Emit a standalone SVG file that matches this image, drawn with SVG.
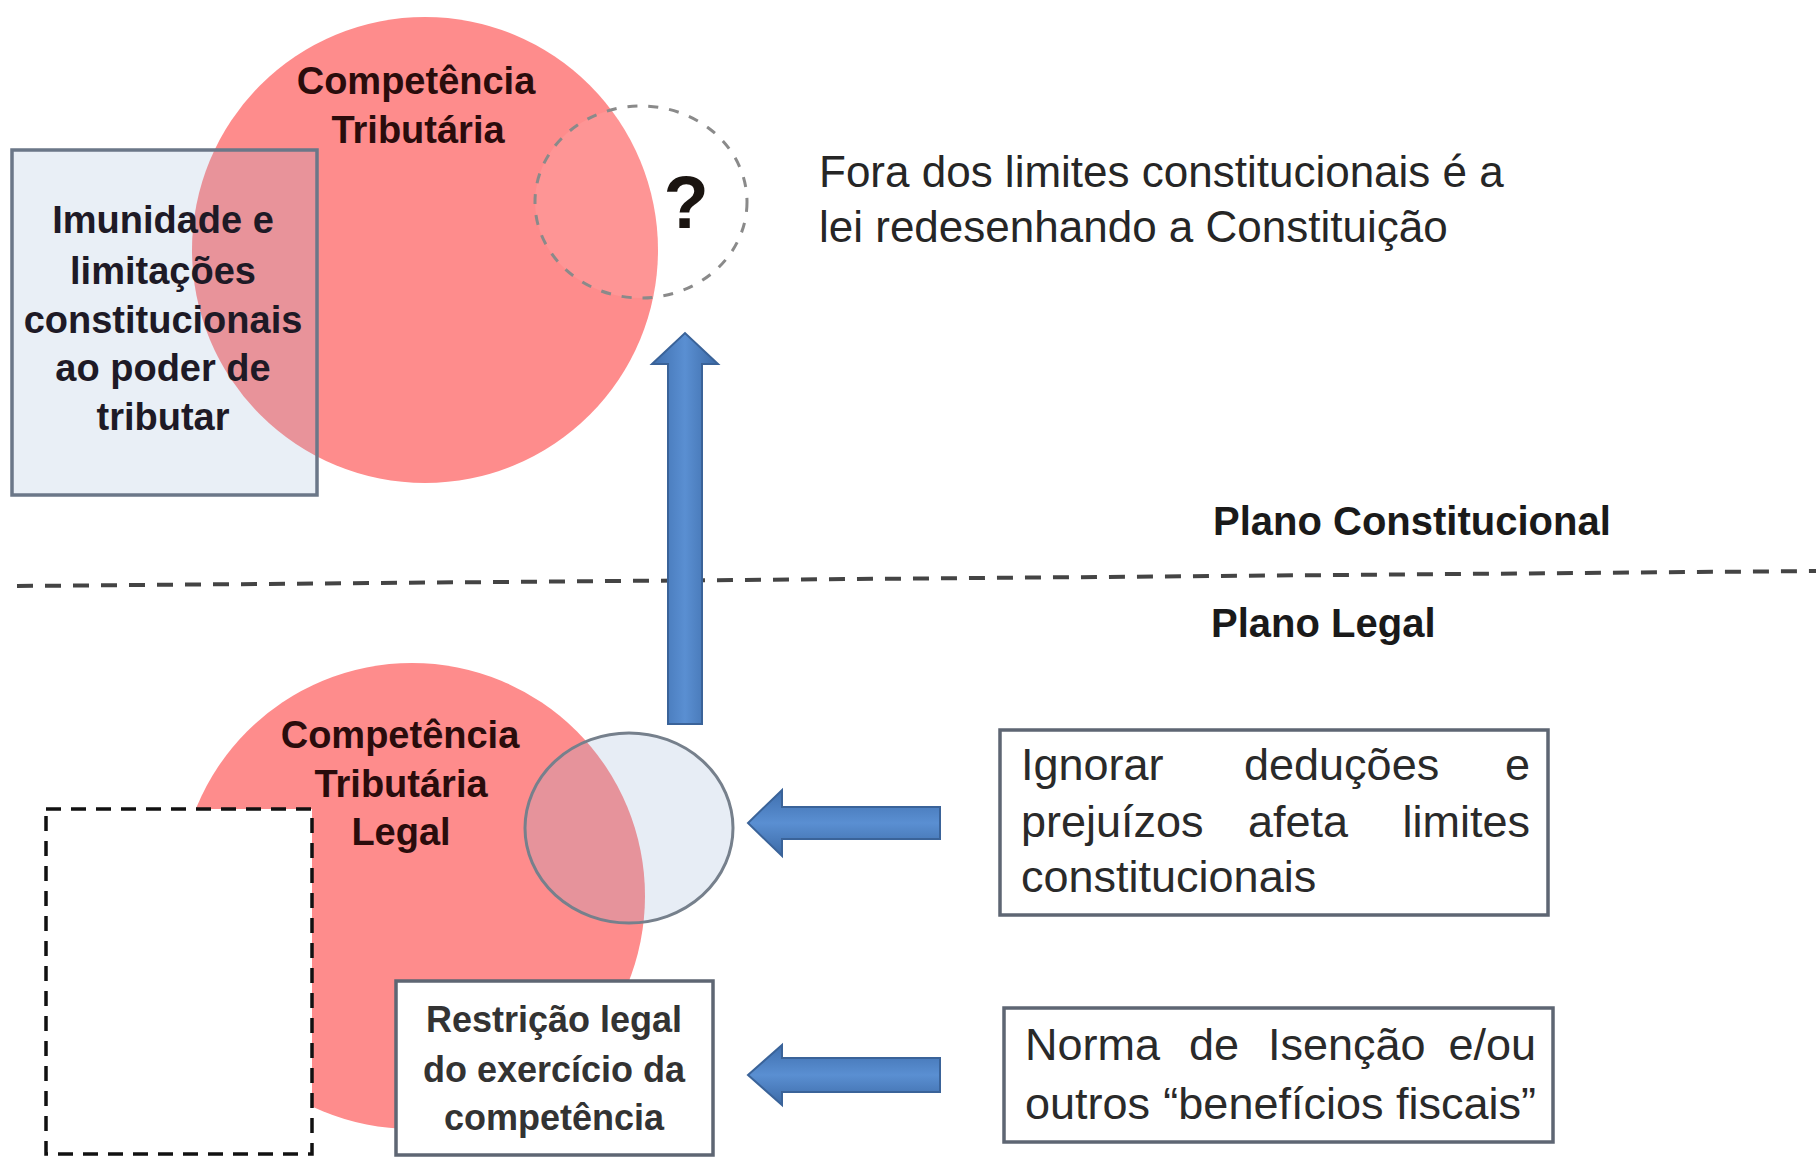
<svg xmlns="http://www.w3.org/2000/svg" width="1816" height="1158" viewBox="0 0 1816 1158">
  <defs>
    <style>
      .pink { fill: #fe8c8c; }
      .bold { font-family: "Liberation Sans", Arial, sans-serif; font-weight: bold; }
      .reg { font-family: "Liberation Sans", Arial, sans-serif; font-weight: normal; }
      .ctxt { fill: #2a0c0c; font-size: 38px; text-anchor: middle; }
      .boxtxt { fill: #2a2a2a; font-size: 45px; }
      .arrow { fill: url(#blueH); stroke: #3a6399; stroke-width: 2; }
      .frame { fill: #ffffff; stroke: #5e6673; stroke-width: 3.5; }
    </style>
    <linearGradient id="blueH" x1="0" y1="0" x2="0" y2="1">
      <stop offset="0" stop-color="#3f6fae"/>
      <stop offset="0.5" stop-color="#5a8fd2"/>
      <stop offset="1" stop-color="#3c6aa6"/>
    </linearGradient>
    <linearGradient id="blueV" x1="0" y1="0" x2="1" y2="0">
      <stop offset="0" stop-color="#3f6fae"/>
      <stop offset="0.5" stop-color="#5a8fd2"/>
      <stop offset="1" stop-color="#3c6aa6"/>
    </linearGradient>
  </defs>

  <rect x="0" y="0" width="1816" height="1158" fill="#ffffff"/>

  <!-- Top constitutional competence circle -->
  <g id="competencia-tributaria">
    <circle class="pink" cx="425" cy="250" r="233"/>
    <text class="bold ctxt" x="416" y="94">Competência</text>
    <text class="bold ctxt" x="418" y="143">Tributária</text>
  </g>

  <!-- Immunity box -->
  <g id="imunidade">
    <rect x="12" y="150" width="305" height="345" fill="#91afd2" fill-opacity="0.2" stroke="#6b7788" stroke-width="3.5"/>
    <g class="bold" fill="#1e1a26" font-size="38" text-anchor="middle">
      <text x="163" y="233">Imunidade e</text>
      <text x="163" y="284">limitações</text>
      <text x="163" y="333">constitucionais</text>
      <text x="163" y="381">ao poder de</text>
      <text x="163" y="430">tributar</text>
    </g>
  </g>

  <!-- Dashed question circle -->
  <g id="fora-dos-limites">
    <ellipse cx="641" cy="202" rx="106" ry="96" fill="#ffffff" fill-opacity="0.08" stroke="#8a8a8a" stroke-width="3" stroke-dasharray="10 11"/>
    <text class="bold" x="686" y="228" font-size="74" fill="#1a1410" text-anchor="middle">?</text>
  </g>

  <g id="nota-constituicao">
    <text class="reg" x="819" y="187" font-size="44" fill="#262626">Fora dos limites constitucionais é a</text>
    <text class="reg" x="819" y="242" font-size="44" fill="#262626">lei redesenhando a Constituição</text>
  </g>

  <!-- Plane labels and divider -->
  <g id="plano-constitucional">
    <text class="bold" x="1213" y="535" font-size="40" fill="#1a1a1a">Plano Constitucional</text>
  </g>
  <g id="plano-legal">
    <text class="bold" x="1211" y="637" font-size="40" fill="#1a1a1a">Plano Legal</text>
  </g>
  <g id="divisor">
    <line x1="17" y1="586" x2="1816" y2="571" stroke="#444444" stroke-width="4" stroke-dasharray="16 12"/>
  </g>

  <!-- Lower legal competence circle -->
  <g id="competencia-tributaria-legal">
    <circle class="pink" cx="412" cy="896" r="233"/>
    <text class="bold ctxt" x="400" y="748">Competência</text>
    <text class="bold ctxt" x="401" y="797">Tributária</text>
    <text class="bold ctxt" x="401" y="845">Legal</text>
  </g>

  <!-- Dashed empty rectangle -->
  <g id="area-restrita">
    <rect x="46" y="809" width="266" height="345" fill="#ffffff" stroke="#111111" stroke-width="3.5" stroke-dasharray="15 10"/>
  </g>

  <!-- Small circle affected by ignoring deductions -->
  <g id="limites-afetados">
    <ellipse cx="629" cy="828" rx="104" ry="95" fill="#91afd2" fill-opacity="0.22" stroke="#76808c" stroke-width="3"/>
  </g>

  <!-- Restriction box -->
  <g id="restricao-legal">
    <rect class="frame" x="396" y="981" width="317" height="174"/>
    <g class="bold" fill="#333333" font-size="36" text-anchor="middle">
      <text x="554" y="1032">Restrição legal</text>
      <text x="554" y="1082">do exercício da</text>
      <text x="554" y="1130">competência</text>
    </g>
  </g>

  <!-- Ignore deductions box -->
  <g id="ignorar-deducoes">
    <rect class="frame" x="1000" y="730" width="548" height="185"/>
    <g class="reg boxtxt">
      <text x="1021" y="780">Ignorar</text>
      <text x="1244" y="780">deduções</text>
      <text x="1530" y="780" text-anchor="end">e</text>
      <text x="1021" y="837">prejuízos</text>
      <text x="1248" y="837">afeta</text>
      <text x="1530" y="837" text-anchor="end">limites</text>
      <text x="1021" y="892">constitucionais</text>
    </g>
  </g>

  <!-- Exemption norm box -->
  <g id="norma-isencao">
    <rect class="frame" x="1004" y="1008" width="549" height="134"/>
    <g class="reg boxtxt">
      <text x="1025" y="1060">Norma</text>
      <text x="1189" y="1060">de</text>
      <text x="1268" y="1060">Isenção</text>
      <text x="1536" y="1060" text-anchor="end">e/ou</text>
      <text x="1025" y="1119">outros</text>
      <text x="1536" y="1119" text-anchor="end">“benefícios fiscais”</text>
    </g>
  </g>

  <!-- Connectors -->
  <g id="conectores">
    <path d="M668,724 L668,364 L652,364 L685,333 L718,364 L702,364 L702,724 Z" fill="url(#blueV)" stroke="#3a6399" stroke-width="2"/>
    <path class="arrow" d="M940,807 L782,807 L782,790 L748,823 L782,856 L782,839 L940,839 Z"/>
    <path class="arrow" d="M940,1058 L782,1058 L782,1045 L748,1075 L782,1105 L782,1092 L940,1092 Z"/>
  </g>
</svg>
